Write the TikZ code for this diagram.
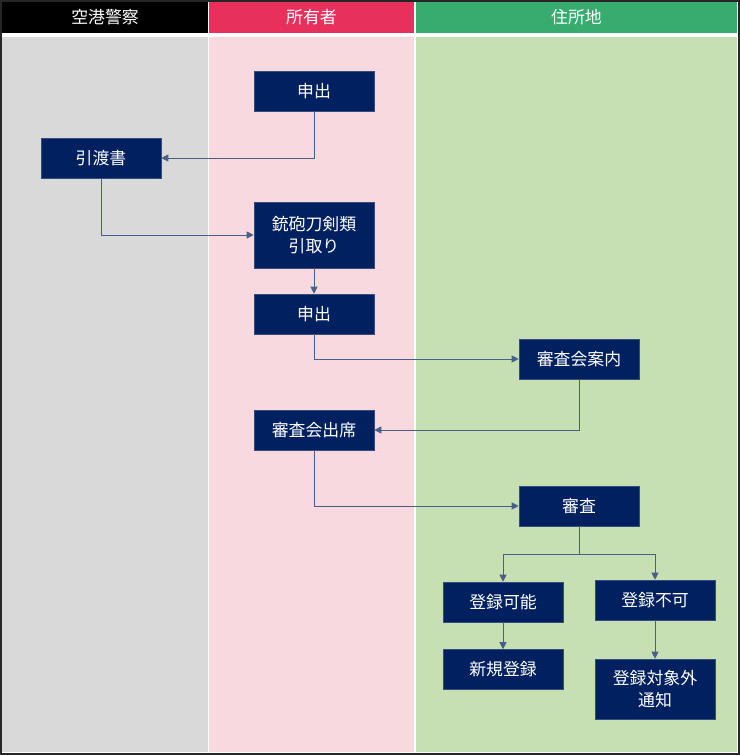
\documentclass[tikz,border=0pt]{standalone}
\usepackage{fontspec}
\usepackage{xcolor}
\usetikzlibrary{arrows.meta}
\newfontfamily\jpfont{Noto Sans CJK JP}

\definecolor{navybox}{HTML}{002060}
\definecolor{flowline}{HTML}{4A5F85}
\definecolor{headpolice}{HTML}{000000}
\definecolor{headowner}{HTML}{E8305D}
\definecolor{headhome}{HTML}{38AB6E}
\definecolor{lanepolice}{HTML}{D9D9D9}
\definecolor{laneowner}{HTML}{F9D9E0}
\definecolor{lanehome}{HTML}{C6E0B4}

\begin{document}
\begin{tikzpicture}[
    x=0.025cm, y=-0.025cm,
    box/.style={draw=navybox!80!white, fill=navybox, rectangle, minimum width=3cm, minimum height=1cm, inner sep=0pt, align=center, text=white, font=\jpfont\fontsize{12}{16}\selectfont},
    head/.style={rectangle, inner sep=0pt, text=white, font=\jpfont\fontsize{12}{16}\selectfont},
    arrow/.style={-{Triangle[width=5pt,length=5pt]}, flowline, line width=0.6pt}
  ]
    \useasboundingbox (0,0) rectangle (740,755);
    \fill[white] (0,0) rectangle (740,755);

    % Lanes
    \fill[headpolice] (2,2) rectangle (208,33);
    \fill[headowner] (209,2) rectangle (414,33);
    \fill[headhome] (416,2) rectangle (737,33);
    \fill[lanepolice] (2,37) rectangle (208,752);
    \fill[laneowner] (209,37) rectangle (414,752);
    \fill[lanehome] (416,37) rectangle (737,752);
    \node[head] (hpolice) at (105,17.5) {空港警察};
    \node[head] (howner) at (311.5,17.5) {所有者};
    \node[head] (hhome) at (576.5,17.5) {住所地};
    \draw[black!85, line width=2.2pt] (0,0) rectangle (740,755);

    % Nodes
    \node[box] (req1) at (314,91) {申出};
    \node[box] (handover) at (101,158) {引渡書};
    \node[box, minimum height=1.65cm] (pickup) at (314,235) {銃砲刀剣類\\引取り};
    \node[box] (req2) at (314,314) {申出};
    \node[box] (notice) at (579,359) {審査会案内};
    \node[box] (attend) at (314,430) {審査会出席};
    \node[box] (review) at (579,506) {審査};

    % Results
    \node[box] (ok) at (503,602) {登録可能};
    \node[box] (ng) at (655,600) {登録不可};
    \node[box] (newreg) at (503,669.5) {新規登録};
    \node[box, minimum height=1.5cm] (outnotice) at (655,689) {登録対象外\\通知};

    % Arrows
    \draw[arrow] (req1.south) |- (handover.east);
    \draw[arrow] (handover.south) |- (pickup.west);
    \draw[arrow] (pickup.south) -- (req2.north);
    \draw[arrow] (req2.south) |- (notice.west);
    \draw[arrow] (notice.south) |- (attend.east);
    \draw[arrow] (attend.south) |- (review.west);

    % Split from review
    \path (review.south) -- ++(0,28) coordinate (branch1);
    \draw[flowline, line width=0.6pt] (review.south) -- (branch1);
    \draw[arrow] (branch1) -| (ok.north);
    \draw[arrow] (branch1) -| (ng.north);
    \draw[arrow] (ok.south) -- (newreg.north);
    \draw[arrow] (ng.south) -- (outnotice.north);
  \end{tikzpicture}
\end{document}
